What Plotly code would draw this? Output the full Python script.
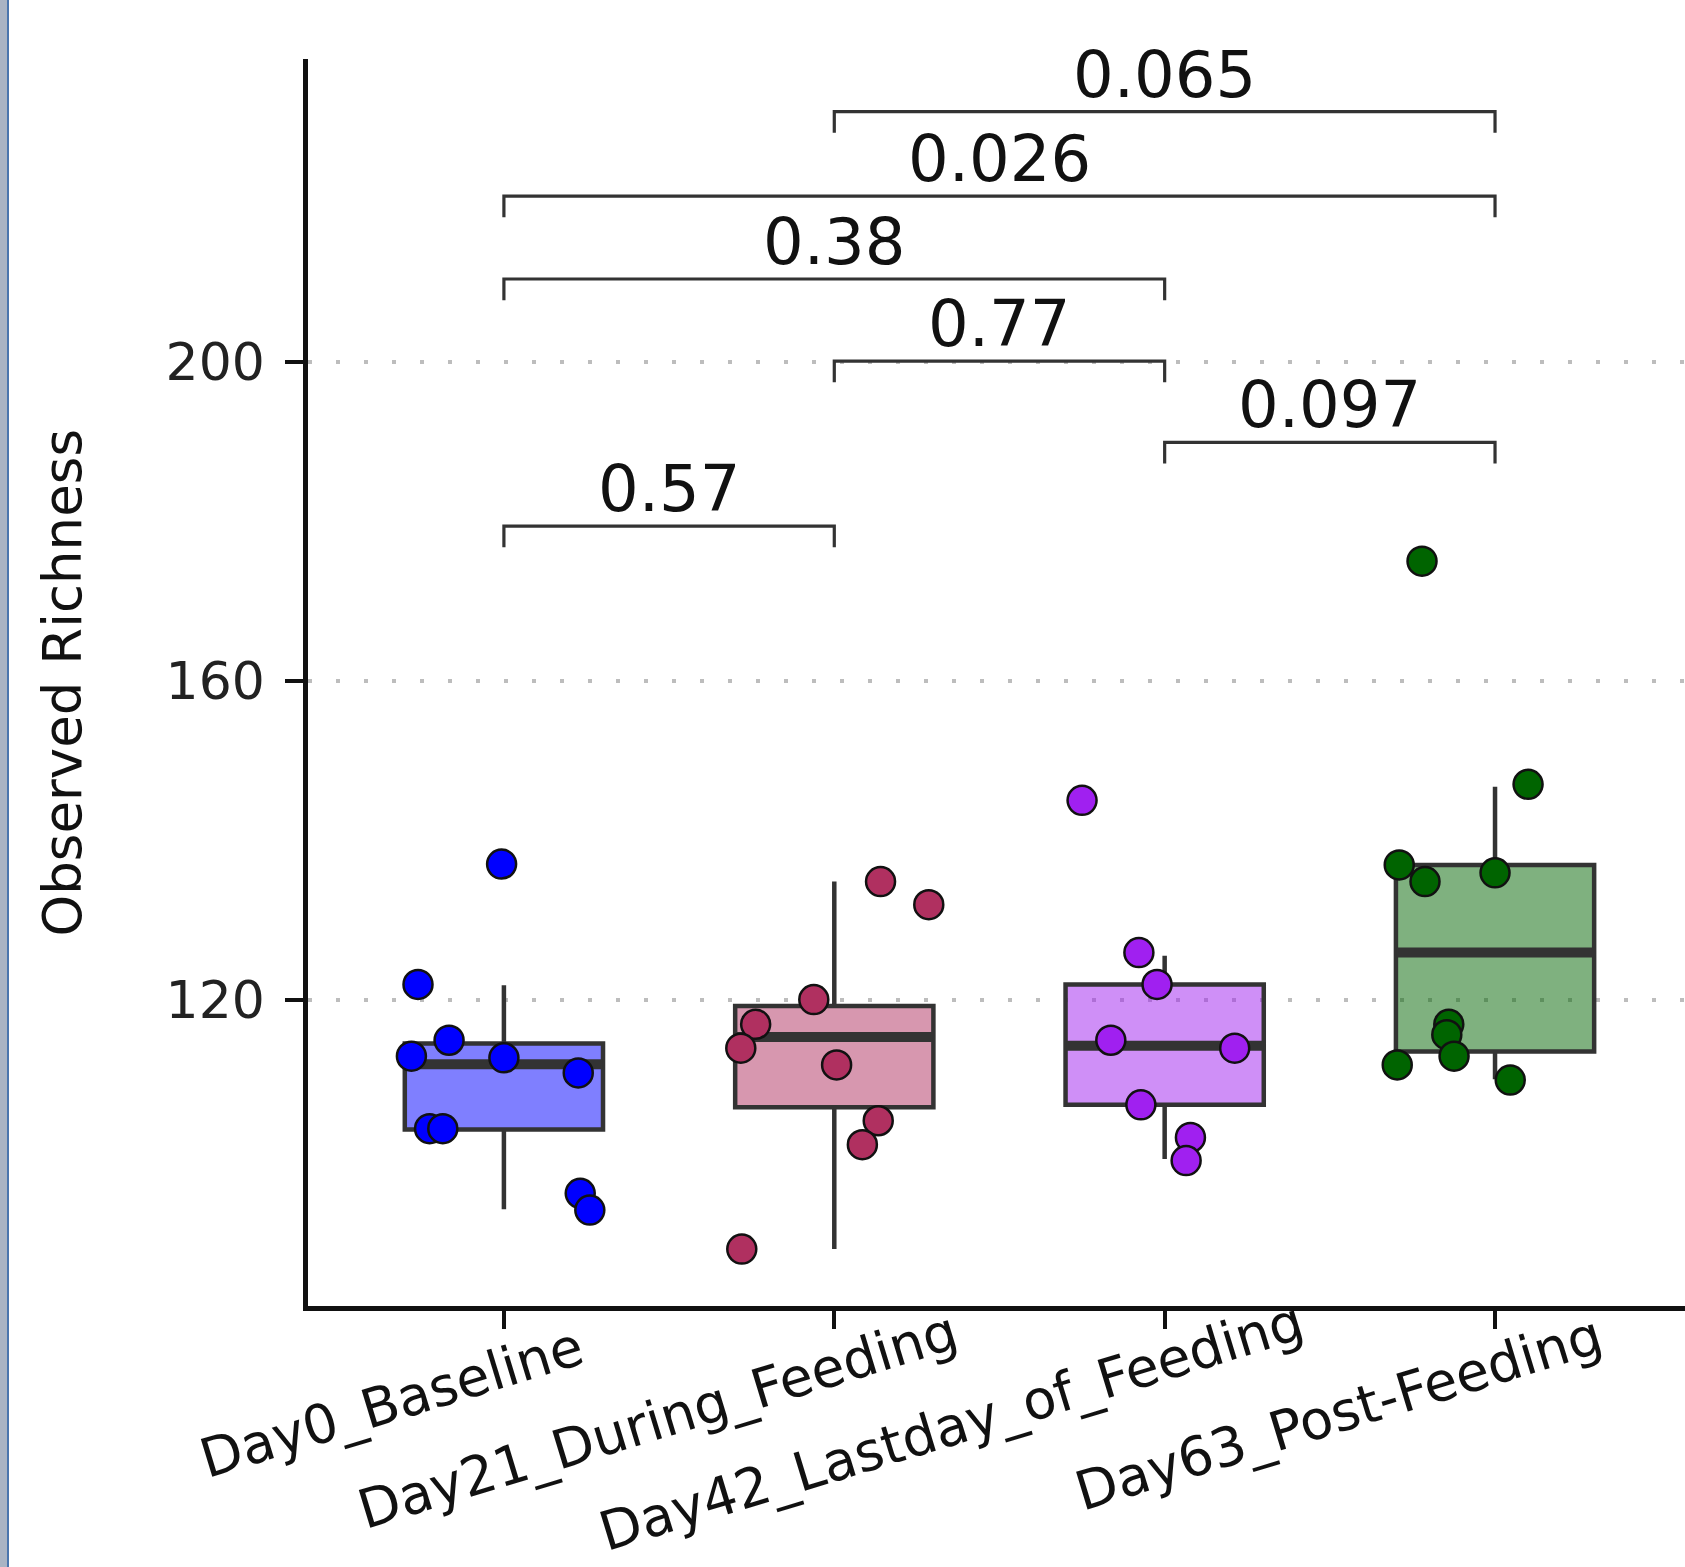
import plotly.graph_objects as go

# ---------------- data ----------------
groups = ["Day0_Baseline", "Day21_During_Feeding", "Day42_Lastday_of_Feeding", "Day63_Post-Feeding"]

# observed richness per sample and horizontal jitter offsets
day0_vals = [137.0, 121.9, 114.9, 112.9, 112.7, 110.8, 103.8, 103.8, 95.7, 93.6]
day0_jit = [-0.007, -0.26, -0.166, -0.28, 0.0, 0.225, -0.225, -0.185, 0.231, 0.26]
day21_vals = [134.8, 131.9, 120.0, 116.9, 113.9, 111.8, 104.8, 101.8, 88.7]
day21_jit = [0.14, 0.286, -0.062, -0.238, -0.283, 0.007, 0.133, 0.085, -0.28]
day42_vals = [145.0, 125.9, 121.9, 114.9, 113.9, 106.8, 102.7, 99.8]
day42_jit = [-0.25, -0.078, -0.023, -0.163, 0.212, -0.072, 0.078, 0.065]
day63_vals = [175.0, 147.0, 136.9, 134.8, 135.9, 116.9, 115.6, 112.9, 111.8, 109.9]
day63_jit = [-0.221, 0.1, -0.29, -0.212, 0.0, -0.14, -0.146, -0.124, -0.296, 0.046]

# box statistics
box_q1 = [103.7, 106.5, 106.8, 113.5]
box_median = [111.9, 115.3, 114.2, 125.9]
box_q3 = [114.5, 119.2, 121.9, 136.9]
box_lower = [93.7, 88.7, 100.0, 110.0]
box_upper = [121.8, 134.8, 125.5, 146.7]

# significance brackets
sig_from = [0, 2, 1, 0, 0, 1]
sig_to = [1, 3, 2, 2, 3, 3]
sig_y = [179.4, 189.9, 200.1, 210.4, 220.8, 231.4]
sig_label = ["0.57", "0.097", "0.77", "0.38", "0.026", "0.065"]
tip_len = 2.65

y_ticks = [120, 160, 200]

# ---------------- styles ----------------
point_colors = ["#0000FF", "#B03060", "#A020F0", "#006400"]
box_fills = ["rgba(0,0,255,0.5)", "rgba(176,48,96,0.5)", "rgba(160,32,240,0.5)", "rgba(0,100,0,0.5)"]
FONT = "DejaVu Sans"
DARK = "#333333"

W, H = 1685, 1567
ML, MR, MT, MB = 308, 0, 59, 261
PW, PH = W - ML - MR, H - MT - MB

vals = [day0_vals, day21_vals, day42_vals, day63_vals]
jits = [day0_jit, day21_jit, day42_jit, day63_jit]

fig = go.Figure()

# boxes
for i in range(4):
    fig.add_trace(go.Box(
        x=[i], q1=[box_q1[i]], median=[box_median[i]], q3=[box_q3[i]],
        lowerfence=[box_lower[i]], upperfence=[box_upper[i]],
        width=0.6, whiskerwidth=0, boxpoints=False,
        fillcolor=box_fills[i], line=dict(color=DARK, width=4.5),
        showlegend=False, hoverinfo="skip",
    ))

# thick median lines
for i in range(4):
    fig.add_trace(go.Scatter(
        x=[i - 0.298, i + 0.298], y=[box_median[i], box_median[i]],
        mode="lines", line=dict(color=DARK, width=10),
        showlegend=False, hoverinfo="skip",
    ))

# jittered points
for i in range(4):
    fig.add_trace(go.Scatter(
        x=[i + j for j in jits[i]], y=vals[i], mode="markers",
        marker=dict(size=29, color=point_colors[i], line=dict(color="#111111", width=2.5)),
        showlegend=False, hoverinfo="skip",
    ))

# significance brackets
for a, b, h, lab in zip(sig_from, sig_to, sig_y, sig_label):
    fig.add_trace(go.Scatter(
        x=[a, a, b, b], y=[h - tip_len, h, h, h - tip_len],
        mode="lines", line=dict(color=DARK, width=3.2),
        showlegend=False, hoverinfo="skip",
    ))
    fig.add_annotation(
        x=(a + b) / 2, y=h, xref="x", yref="y", text=lab, showarrow=False,
        xanchor="center", yanchor="bottom", yshift=-2,
        font=dict(family=FONT, size=64, color="#111111"),
    )

# x category labels (rotated)
label_dx = [-112, -177, -213, -157]
label_dy = [-96, -114, -120, -107]
for i, g in enumerate(groups):
    fig.add_annotation(
        x=i, y=0, xref="x", yref="paper", text=g, showarrow=False,
        textangle=-17, xanchor="center", yanchor="middle",
        xshift=label_dx[i], yshift=label_dy[i], borderpad=0,
        font=dict(family=FONT, size=54, color="#111111"),
    )

# y axis title
fig.add_annotation(
    x=0, y=0.5, xref="paper", yref="paper", text="Observed Richness",
    showarrow=False, textangle=-90, xanchor="center", yanchor="middle",
    xshift=-246, font=dict(family=FONT, size=53, color="#111111"),
)

# window frame strip at left edge
fig.add_shape(type="rect", xref="paper", yref="paper",
              x0=-ML / PW, x1=-(ML - 7) / PW, y0=-MB / PH, y1=1 + MT / PH,
              fillcolor="#A9B4C4", line=dict(width=0), layer="above")
fig.add_shape(type="rect", xref="paper", yref="paper",
              x0=-(ML - 7) / PW, x1=-(ML - 9) / PW, y0=-MB / PH, y1=1 + MT / PH,
              fillcolor="#4A76AE", line=dict(width=0), layer="above")

fig.update_layout(
    width=W, height=H,
    margin=dict(l=ML, r=MR, t=MT, b=MB, autoexpand=False),
    paper_bgcolor="white", plot_bgcolor="white",
    showlegend=False,
    xaxis=dict(
        range=[-0.593, 3.575], tickmode="array", tickvals=[0, 1, 2, 3],
        showticklabels=False, ticks="outside", ticklen=18, tickwidth=3.5, tickcolor="#111111",
        showline=True, linecolor="#111111", linewidth=4.5, showgrid=False, zeroline=False,
    ),
    yaxis=dict(
        range=[81.56, 238.0], tickmode="array", tickvals=y_ticks,
        ticktext=[str(v) for v in y_ticks],
        ticks="outside", ticklen=18, tickwidth=3.5, tickcolor="#111111",
        ticklabelstandoff=10,
        tickfont=dict(family=FONT, size=52, color="#222222"),
        showline=True, linecolor="#111111", linewidth=4.5,
        showgrid=True, gridcolor="#BDBDBD", gridwidth=4, griddash="4px,24px",
        zeroline=False,
    ),
)

fig.write_html("out.html")
